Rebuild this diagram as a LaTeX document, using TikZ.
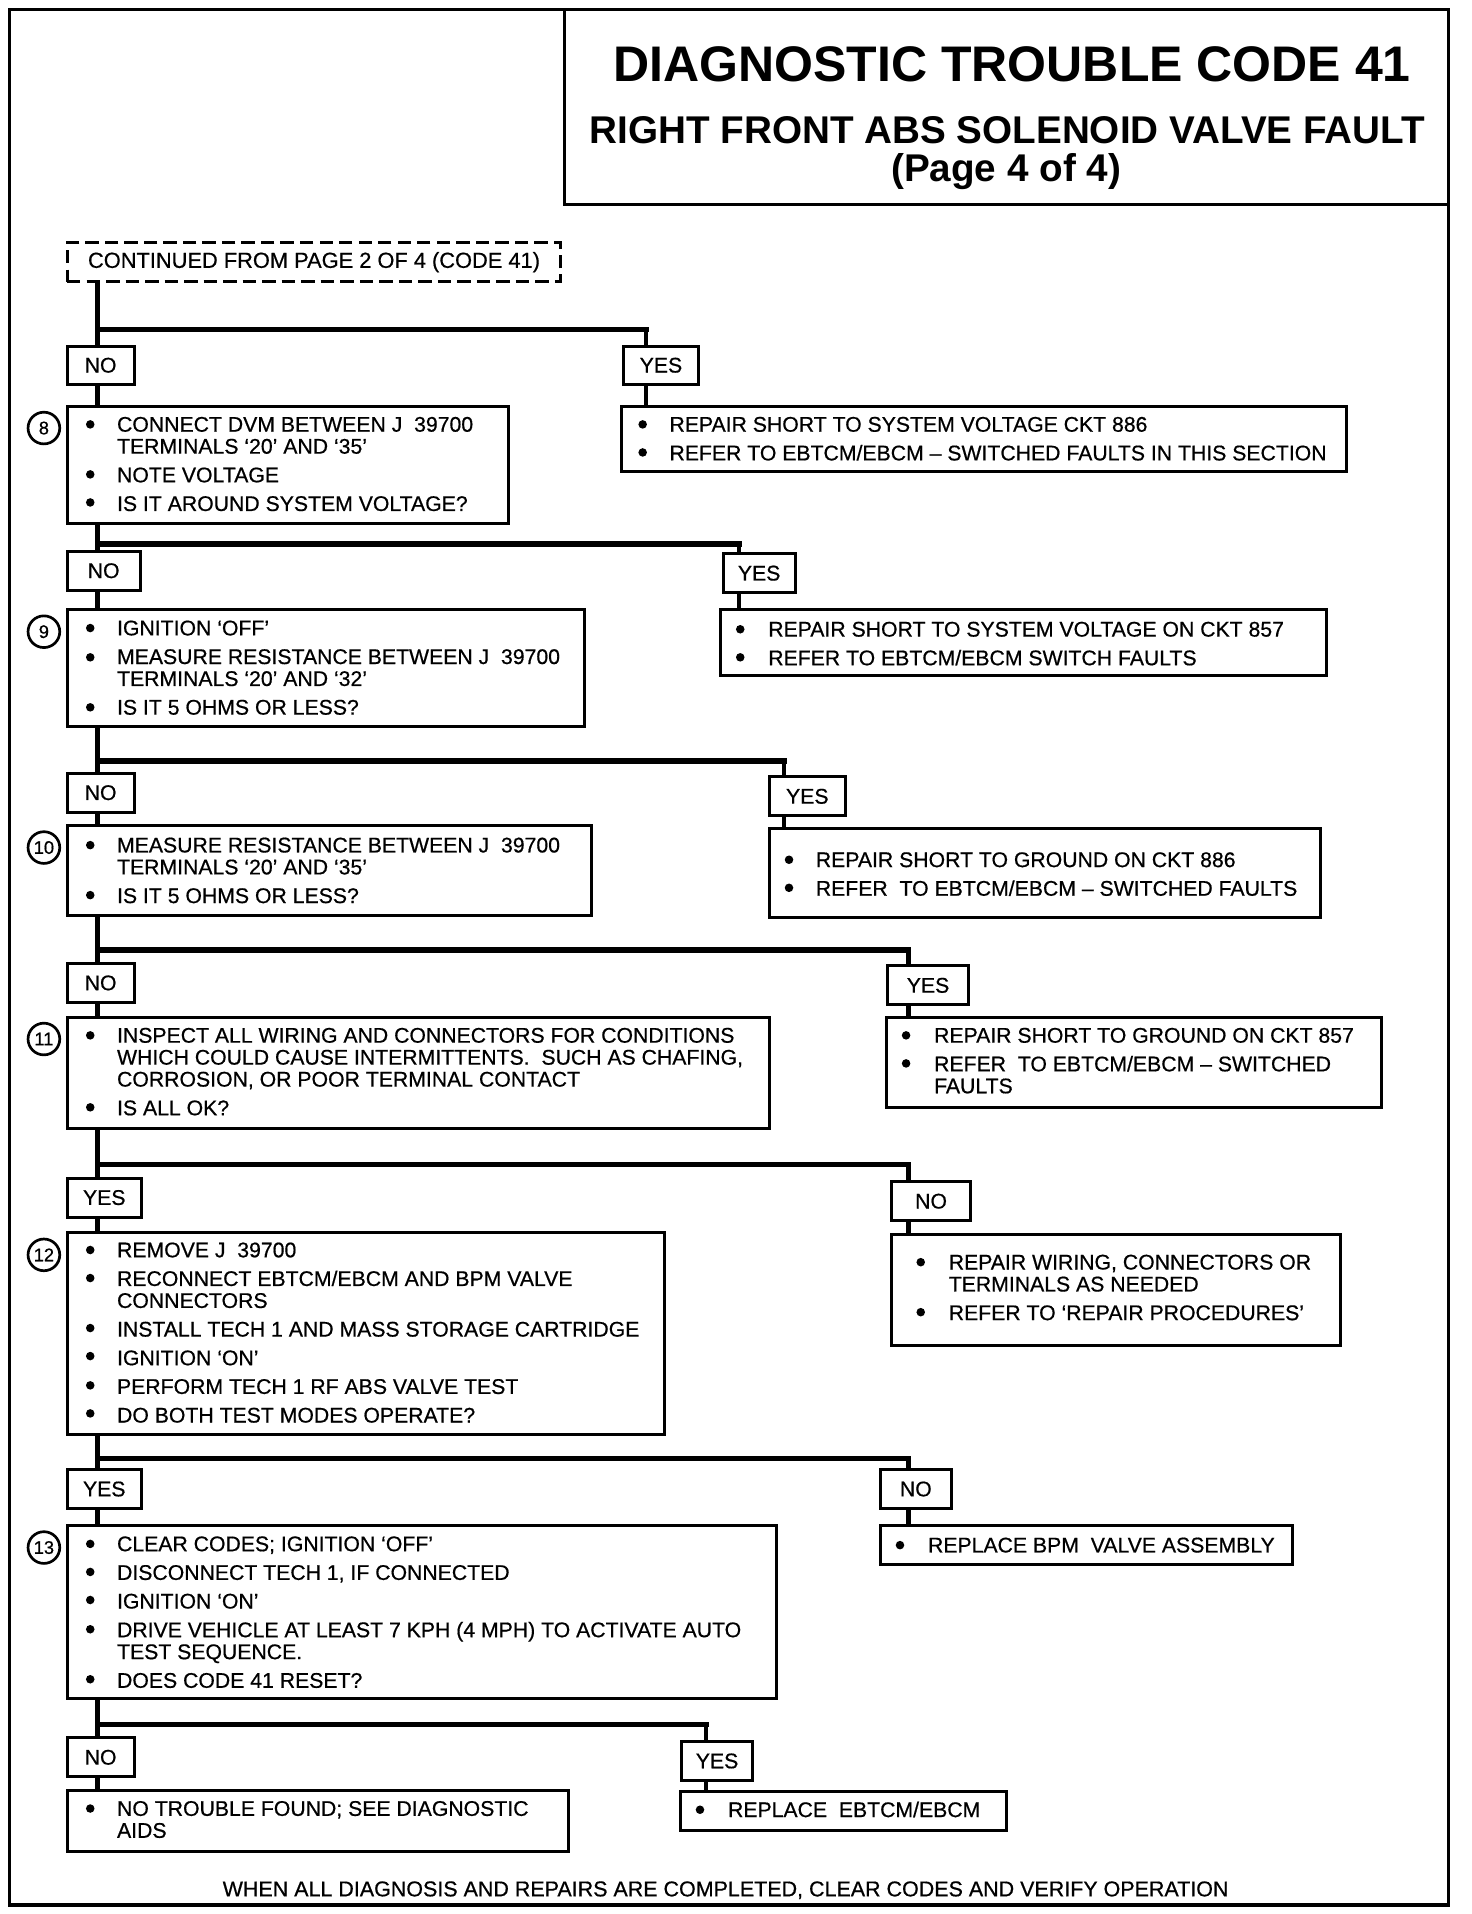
\documentclass[tikz,border=0pt]{standalone}
\usepackage{fontspec}
\setmainfont{Liberation Sans}
\newfontfamily\bodyfont[FakeBold=0.6,Ligatures=TeX]{Liberation Sans}
\newcommand\tl[1]{\hbox{#1}}
\newcommand\ig{\vskip5.5pt}
\newcommand\tb[1]{\vtop{\baselineskip=18pt\lineskiplimit=-50pt\lineskip=0pt #1}}
\begin{document}
\begin{tikzpicture}[x=1pt,y=-1pt,
  box/.style={draw,line width=2.5pt,inner sep=0pt,outer sep=0pt,anchor=north west},
  lbl/.style={box,font=\bodyfont\fontsize{17.4}{18}\selectfont},
  txt/.style={inner sep=0pt,outer sep=0pt,anchor=base west,font=\bodyfont\fontsize{17.4}{18}\selectfont},
  vline/.style={line width=3.5pt},
  hline/.style={line width=4.4pt,line cap=rect},
  num/.style={draw,circle,line width=2.2pt,minimum size=26pt,inner sep=0pt,font=\bodyfont\fontsize{15}{15}\selectfont},
  dot/.style={fill=black},
]
\useasboundingbox (0,0) rectangle (1207,1569.5);
% frame and title
\node[box,line width=2.8pt,minimum width=1180,minimum height=1554] (frame) at (8,8) {};
\node[box,minimum width=725,minimum height=160] (tbox) at (463,8) {};
\node[anchor=base,inner sep=0pt,font=\fontsize{41}{41}\selectfont\bfseries] (t1) at (830,67) {DIAGNOSTIC TROUBLE CODE 41};
\node[anchor=base,inner sep=0pt,font=\fontsize{31.7}{31}\selectfont\bfseries] (t2) at (826,118) {RIGHT FRONT ABS SOLENOID VALVE FAULT};
\node[anchor=base,inner sep=0pt,font=\fontsize{31.7}{31}\selectfont\bfseries] (t3) at (825,149) {(Page 4 of 4)};
\node[box,dashed,dash pattern=on 11pt off 5pt,minimum width=405,minimum height=32,font=\bodyfont\fontsize{17.9}{18}\selectfont] (cont) at (55,199) {CONTINUED FROM PAGE 2 OF 4 (CODE 41)};

% label boxes
\node[lbl,minimum width=55,minimum height=31] (L1) at (55,284) {NO};
\node[lbl,minimum width=62,minimum height=31] (R1) at (511,284) {YES};
\node[lbl,minimum width=60,minimum height=32] (L2) at (55,452) {NO};
\node[lbl,minimum width=59,minimum height=32] (R2) at (593,454) {YES};
\node[lbl,minimum width=55,minimum height=32] (L3) at (55,634) {NO};
\node[lbl,minimum width=62,minimum height=32] (R3) at (631,637) {YES};
\node[lbl,minimum width=55,minimum height=32] (L4) at (55,790) {NO};
\node[lbl,minimum width=66,minimum height=32] (R4) at (728,792) {YES};
\node[lbl,minimum width=61,minimum height=32] (L5) at (55,966) {YES};
\node[lbl,minimum width=65,minimum height=32] (R5) at (731,969) {NO};
\node[lbl,minimum width=61,minimum height=32] (L6) at (55,1205) {YES};
\node[lbl,minimum width=58,minimum height=32] (R6) at (722,1205) {NO};
\node[lbl,minimum width=55,minimum height=32] (L7) at (55,1425) {NO};
\node[lbl,minimum width=58,minimum height=32] (R7) at (559,1428) {YES};

% main boxes
\node[box,minimum width=362,minimum height=96] (B1) at (55,333) {};
\node[box,minimum width=594,minimum height=54] (A1) at (510,333) {};
\node[box,minimum width=424,minimum height=96] (B2) at (55,500) {};
\node[box,minimum width=497,minimum height=54] (A2) at (591,500) {};
\node[box,minimum width=430,minimum height=74] (B3) at (55,677) {};
\node[box,minimum width=452,minimum height=73] (A3) at (631,679) {};
\node[box,minimum width=576,minimum height=91] (B4) at (55,834) {};
\node[box,minimum width=406,minimum height=74] (A4) at (727,834) {};
\node[box,minimum width=490,minimum height=165] (B5) at (55,1011) {};
\node[box,minimum width=368,minimum height=91] (A5) at (731,1012) {};
\node[box,minimum width=582,minimum height=142] (B6) at (55,1251) {};
\node[box,minimum width=338,minimum height=32] (A6) at (722,1251) {};
\node[box,minimum width=411,minimum height=50] (B7) at (55,1468) {};
\node[box,minimum width=267,minimum height=32] (A7) at (558,1469) {};

% step numbers
\node[num] (c8) at (36,351) {8};
\node[num] (c9) at (36,518) {9};
\node[num] (c10) at (36,695) {10};
\node[num] (c11) at (36,852) {11};
\node[num] (c12) at (36,1029) {12};
\node[num] (c13) at (36,1269) {13};

% branch coordinates
\coordinate (h1) at (80,270);  \coordinate (k1) at (530,270);
\coordinate (h2) at (80,446);  \coordinate (k2) at (606,446);
\coordinate (h3) at (80,624);  \coordinate (k3) at (643,624);
\coordinate (h4) at (80,779);  \coordinate (k4) at (745,779);
\coordinate (h5) at (80,955);  \coordinate (k5) at (745,955);
\coordinate (h6) at (80,1196); \coordinate (k6) at (745,1196);
\coordinate (h7) at (80,1414); \coordinate (k7) at (579,1414);

\foreach \i/\p in {1/cont,2/B1,3/B2,4/B3,5/B4,6/B5,7/B6}{
  \draw[vline] (\p.south -| h\i) -- (h\i);
  \draw[vline] (h\i) -- (L\i.north -| h\i);
  \draw[vline] (k\i) -- (R\i.north -| k\i);
  \draw[hline] (h\i) -- (k\i);
  \draw[vline] (L\i.south -| h\i) -- (B\i.north -| h\i);
  \draw[vline] (R\i.south -| k\i) -- (A\i.north -| k\i);
}

% texts
\node[txt] (x1) at (96,354) {\tb{\tl{CONNECT DVM BETWEEN J\ \ 39700}\tl{TERMINALS `20' AND `35'}\ig\tl{NOTE VOLTAGE}\ig\tl{IS IT AROUND SYSTEM VOLTAGE?}}};
\foreach \y in {348,389,412} \fill[dot] (74,\y) circle (3.5pt);
\node[txt] (y1t) at (549,354) {\tb{\tl{REPAIR SHORT TO SYSTEM VOLTAGE CKT 886}\ig\tl{REFER TO EBTCM/EBCM -- SWITCHED FAULTS IN THIS SECTION}}};
\foreach \y in {348,371} \fill[dot] (527,\y) circle (3.5pt);

\node[txt] (x2) at (96,521) {\tb{\tl{IGNITION `OFF'}\ig\tl{MEASURE RESISTANCE BETWEEN J\ \ 39700}\tl{TERMINALS `20' AND `32'}\ig\tl{IS IT 5 OHMS OR LESS?}}};
\foreach \y in {515,539,580} \fill[dot] (74,\y) circle (3.5pt);
\node[txt] (y2t) at (630,522) {\tb{\tl{REPAIR SHORT TO SYSTEM VOLTAGE ON CKT 857}\ig\tl{REFER TO EBTCM/EBCM SWITCH FAULTS}}};
\foreach \y in {516,539} \fill[dot] (607,\y) circle (3.5pt);

\node[txt] (x3) at (96,699) {\tb{\tl{MEASURE RESISTANCE BETWEEN J\ \ 39700}\tl{TERMINALS `20' AND `35'}\ig\tl{IS IT 5 OHMS OR LESS?}}};
\foreach \y in {693,734} \fill[dot] (74,\y) circle (3.5pt);
\node[txt] (y3t) at (669,711) {\tb{\tl{REPAIR SHORT TO GROUND ON CKT 886}\ig\tl{REFER\ \ TO EBTCM/EBCM -- SWITCHED FAULTS}}};
\foreach \y in {705,728} \fill[dot] (647,\y) circle (3.5pt);

\node[txt] (x4) at (96,855) {\tb{\tl{INSPECT ALL WIRING AND CONNECTORS FOR CONDITIONS}\tl{WHICH COULD CAUSE INTERMITTENTS.\ \ SUCH AS CHAFING,}\tl{CORROSION, OR POOR TERMINAL CONTACT}\ig\tl{IS ALL OK?}}};
\foreach \y in {849,908} \fill[dot] (74,\y) circle (3.5pt);
\node[txt] (y4t) at (766,855) {\tb{\tl{REPAIR SHORT TO GROUND ON CKT 857}\ig\tl{REFER\ \ TO EBTCM/EBCM -- SWITCHED}\tl{FAULTS}}};
\foreach \y in {849,872} \fill[dot] (743,\y) circle (3.5pt);

\node[txt] (x5) at (96,1031) {\tb{\tl{REMOVE J\ \ 39700}\ig\tl{RECONNECT EBTCM/EBCM AND BPM VALVE}\tl{CONNECTORS}\ig\tl{INSTALL TECH 1 AND MASS STORAGE CARTRIDGE}\ig\tl{IGNITION `ON'}\ig\tl{PERFORM TECH 1 RF ABS VALVE TEST}\ig\tl{DO BOTH TEST MODES OPERATE?}}};
\foreach \y in {1025,1048,1089,1112,1136,1159} \fill[dot] (74,\y) circle (3.5pt);
\node[txt] (y5t) at (778,1041) {\tb{\tl{REPAIR WIRING, CONNECTORS OR}\tl{TERMINALS AS NEEDED}\ig\tl{REFER TO `REPAIR PROCEDURES'}}};
\foreach \y in {1035,1076} \fill[dot] (755,\y) circle (3.5pt);

\node[txt] (x6) at (96,1272) {\tb{\tl{CLEAR CODES; IGNITION `OFF'}\ig\tl{DISCONNECT TECH 1, IF CONNECTED}\ig\tl{IGNITION `ON'}\ig\tl{DRIVE VEHICLE AT LEAST 7 KPH (4 MPH) TO ACTIVATE AUTO}\tl{TEST SEQUENCE.}\ig\tl{DOES CODE 41 RESET?}}};
\foreach \y in {1266,1289,1312,1336,1377} \fill[dot] (74,\y) circle (3.5pt);
\node[txt] (y6t) at (761,1273) {REPLACE BPM\ \ VALVE ASSEMBLY};
\fill[dot] (738,1267) circle (3.5pt);

\node[txt] (x7) at (96,1489) {\tb{\tl{NO TROUBLE FOUND; SEE DIAGNOSTIC}\tl{AIDS}}};
\fill[dot] (74,1483) circle (3.5pt);
\node[txt] (y7t) at (597,1490) {REPLACE\ \ EBTCM/EBCM};
\fill[dot] (574,1484) circle (3.5pt);

\node[anchor=base,inner sep=0pt,font=\bodyfont\fontsize{17.6}{18}\selectfont] (foot) at (595,1555) {WHEN ALL DIAGNOSIS AND REPAIRS ARE COMPLETED, CLEAR CODES AND VERIFY OPERATION};
\end{tikzpicture}
\end{document}
